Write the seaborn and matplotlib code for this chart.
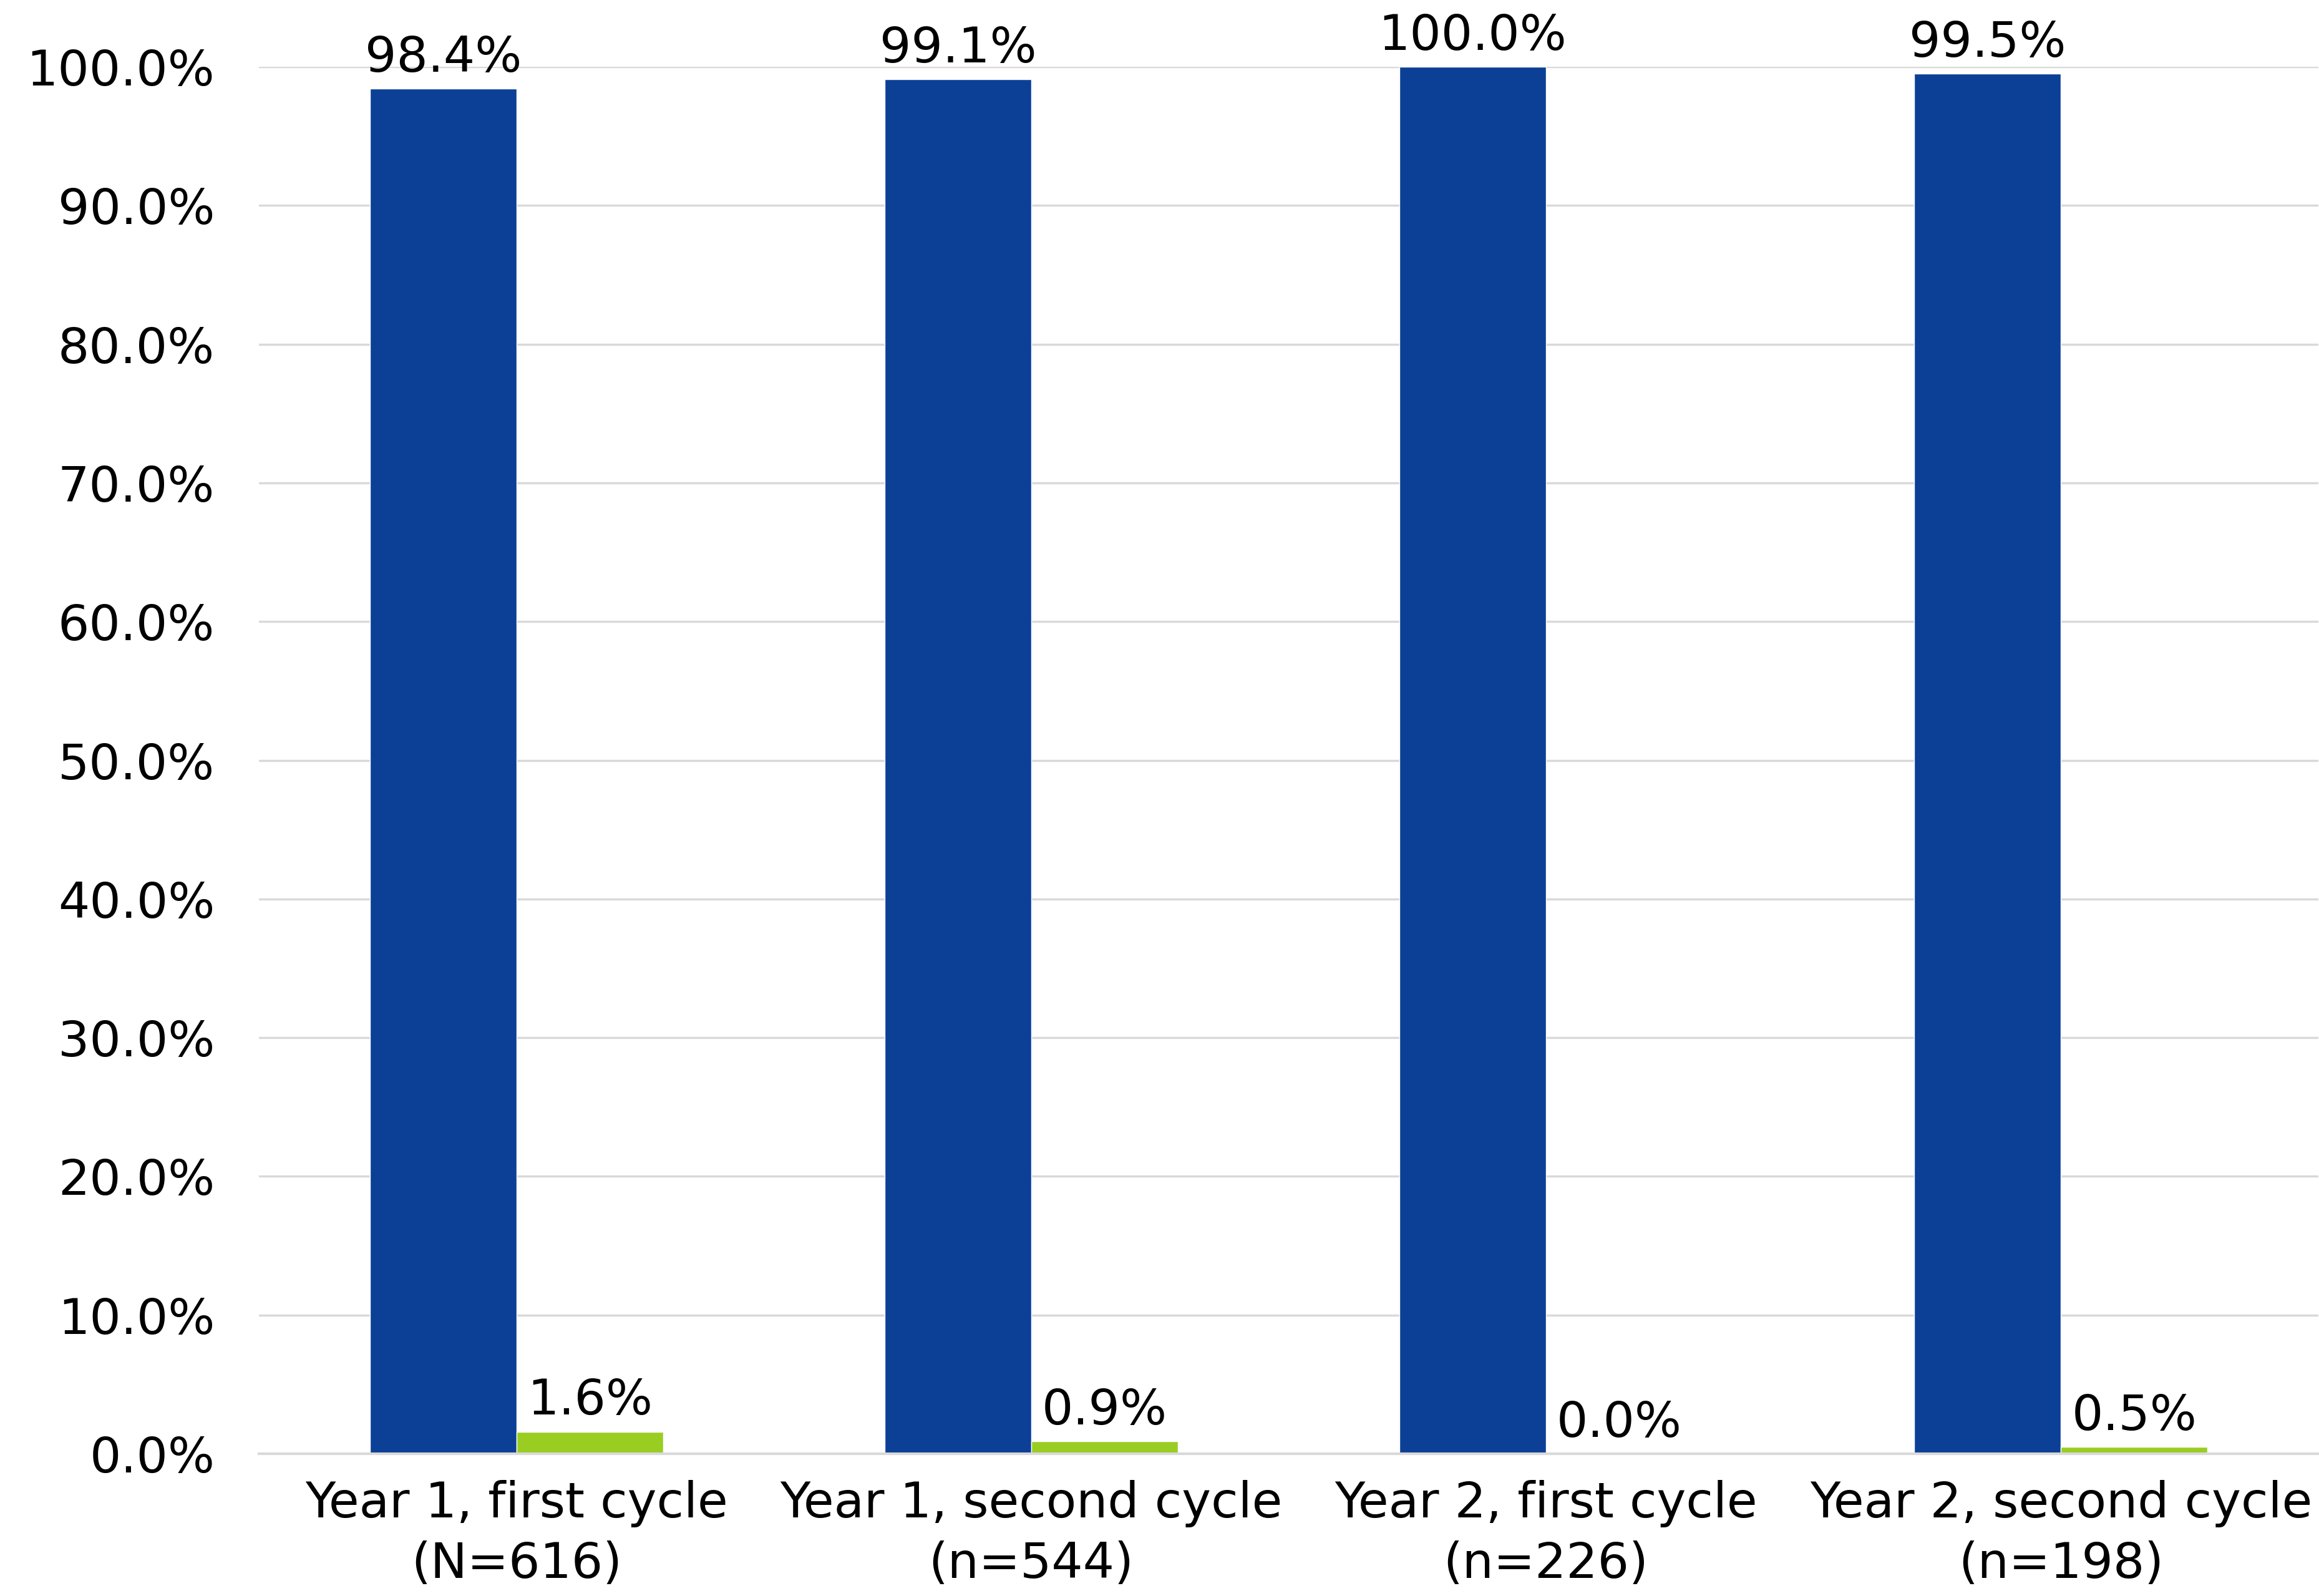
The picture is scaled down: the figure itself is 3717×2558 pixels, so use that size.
import matplotlib
matplotlib.use("Agg")
import matplotlib.pyplot as plt
import seaborn as sns
import pandas as pd
from matplotlib.ticker import PercentFormatter

categories = [
    "Year 1, first cycle\n(N=616)",
    "Year 1, second cycle\n(n=544)",
    "Year 2, first cycle\n(n=226)",
    "Year 2, second cycle\n(n=198)",
]
series_names = ["Yes", "No"]
yes_values = [98.4, 99.1, 100.0, 99.5]
no_values = [1.6, 0.9, 0.0, 0.5]
colors = ["#0C4097", "#9ACD22"]

df = pd.DataFrame({
    "category": categories * 2,
    "series": [series_names[0]] * 4 + [series_names[1]] * 4,
    "value": yes_values + no_values,
})

sns.set_theme(style="white")
plt.rcParams["font.family"] = ["DejaVu Sans"]
plt.rcParams["text.color"] = "black"
plt.rcParams["xtick.color"] = "black"
plt.rcParams["ytick.color"] = "black"

fig = plt.figure(figsize=(37.17, 25.58), dpi=100)
ax = fig.add_axes([0.1117, 0.0891, 0.8880, 0.8691])

sns.barplot(
    data=df, x="category", y="value", hue="series",
    order=categories, hue_order=series_names,
    palette=colors, width=0.57, gap=0, saturation=1,
    legend=False, ax=ax, errorbar=None,
)

for container in ax.containers:
    ax.bar_label(container, fmt="%.1f%%", padding=8, fontsize=57, color="black")

ax.set_ylim(0, 100)
ax.set_xlim(-0.5, 3.5)
ax.set_yticks(range(0, 101, 10))
ax.yaxis.set_major_formatter(PercentFormatter(decimals=1))
ax.grid(axis="y", color="#D9D9D9", linewidth=2.5)
ax.set_axisbelow(True)
for side in ["top", "right", "left"]:
    ax.spines[side].set_visible(False)
ax.spines["bottom"].set_color("#D9D9D9")
ax.spines["bottom"].set_linewidth(3)
ax.tick_params(axis="y", labelsize=57, length=0, pad=51, labelcolor="black")
ax.tick_params(axis="x", labelsize=57, length=0, pad=30, labelcolor="black")
for label in ax.get_xticklabels():
    label.set_linespacing(1.35)
ax.set_xlabel("")
ax.set_ylabel("")

fig.savefig("out.png", dpi=100, facecolor="white")
